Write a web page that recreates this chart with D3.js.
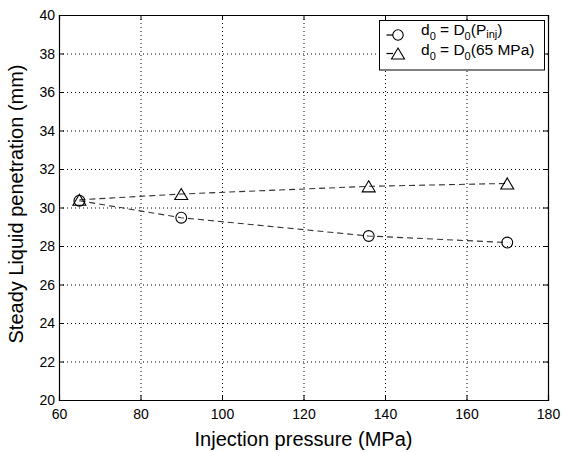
<!DOCTYPE html>
<html><head><meta charset="utf-8">
<script src="https://cdn.jsdelivr.net/npm/d3@7"></script>
<style>body{margin:0;background:#fff}svg{display:block}text,tspan{font-family:"Liberation Sans",Arial,sans-serif;fill:#000}</style>
</head><body><svg id="c" width="561" height="452"></svg>
<script>
const pressure = [65, 90, 136, 170];
const penetrationPinj = [30.35, 29.47, 28.52, 28.18];
const penetration65 = [30.4, 30.7, 31.1, 31.25];
const xTicks = [60, 80, 100, 120, 140, 160, 180];
const yTicks = [20, 22, 24, 26, 28, 30, 32, 34, 36, 38, 40];
const legendLabels = ["Pinj", "65 MPa"];

const svg = d3.select("#c");
const L = 59, R = 548, T = 15, B = 400;
const x = d3.scaleLinear().domain([60, 180]).range([L, R]);
const y = d3.scaleLinear().domain([20, 40]).range([B, T]);

// grid
const g = svg.append("g");
g.selectAll(".gx").data(xTicks.slice(1, -1)).enter().append("line")
  .attr("x1", d => x(d) + 0.5).attr("x2", d => x(d) + 0.5).attr("y1", T).attr("y2", B)
  .attr("stroke", "#000").attr("stroke-width", 1).attr("stroke-dasharray", "1,3");
g.selectAll(".gy").data(yTicks.slice(1, -1)).enter().append("line")
  .attr("y1", d => y(d) + 0.5).attr("y2", d => y(d) + 0.5).attr("x1", L).attr("x2", R)
  .attr("stroke", "#000").attr("stroke-width", 1).attr("stroke-dasharray", "1,3");

// axes
const ax = svg.append("g").attr("transform", `translate(0,${B})`)
  .call(d3.axisBottom(x).tickValues(xTicks).tickSize(-5).tickPadding(9).tickFormat(d3.format("d")));
const ay = svg.append("g").attr("transform", `translate(${L},0)`)
  .call(d3.axisLeft(y).tickValues(yTicks).tickSize(-5).tickPadding(4).tickFormat(d3.format("d")));
const at = svg.append("g").attr("transform", `translate(0,${T})`)
  .call(d3.axisTop(x).tickValues(xTicks).tickSize(-5).tickFormat(""));
const ar = svg.append("g").attr("transform", `translate(${R},0)`)
  .call(d3.axisRight(y).tickValues(yTicks).tickSize(-5).tickFormat(""));
[ax, ay, at, ar].forEach(a => {
  a.select(".domain").attr("stroke", "#000").attr("stroke-width", 1.2);
  a.selectAll(".tick line").attr("stroke", "#000");
  a.selectAll("text").style("font-size", "14px").attr("fill", "#000")
    .style("font-family", "'Liberation Sans',Arial,sans-serif");
});
ax.selectAll("text").attr("dy", "0.71em");
ay.selectAll("text").attr("dy", "0.35em");

// lines
const line = d3.line().x((d, i) => x(pressure[i])).y(d => y(d));
[penetrationPinj, penetration65].forEach(s => {
  svg.append("path").attr("d", line(s)).attr("fill", "none")
    .attr("stroke", "#333").attr("stroke-width", 1.1).attr("stroke-dasharray", "6,4");
});
// markers
svg.selectAll(".circ").data(penetrationPinj).enter().append("circle")
  .attr("cx", (d, i) => x(pressure[i])).attr("cy", d => y(d)).attr("r", 5.4)
  .attr("fill", "none").attr("stroke", "#000").attr("stroke-width", 1.1);
const triPath = "M0,-5.5L6.5,5.5L-6.5,5.5Z";
svg.selectAll(".tri").data(penetration65).enter().append("path")
  .attr("d", triPath)
  .attr("transform", (d, i) => `translate(${x(pressure[i])},${y(d)})`)
  .attr("fill", "none").attr("stroke", "#000").attr("stroke-width", 1.1);

// legend
const lg = svg.append("g");
lg.append("rect").attr("x", 379.5).attr("y", 20.5).attr("width", 165).attr("height", 49.5)
  .attr("fill", "#fff").attr("stroke", "#000").attr("stroke-width", 1);
const rows = [35, 53.5];
rows.forEach((yy, i) => {
  lg.append("line").attr("x1", 386.5).attr("x2", 393).attr("y1", yy).attr("y2", yy)
    .attr("stroke", "#000").attr("stroke-width", 1.2);
  if (i === 0) lg.append("circle").attr("cx", 398).attr("cy", yy).attr("r", 5.2)
    .attr("fill", "none").attr("stroke", "#000").attr("stroke-width", 1.1);
  else lg.append("path").attr("d", triPath).attr("transform", `translate(398,${yy})`)
    .attr("fill", "none").attr("stroke", "#000").attr("stroke-width", 1.1);
  const t = lg.append("text").attr("x", 421).attr("y", i === 0 ? 35 : 54.5).style("font-size", "15.5px");
  const sub = (s, d) => t.append("tspan").text(s).attr("dy", d).style("font-size", "11px").attr("fill", "#000");
  const main = (s, dy) => t.append("tspan").text(s).attr("dy", dy).attr("fill", "#000");
  main("d", 0); sub("0", 5); main(" = D", -5); sub("0", 5);
  if (i === 0) { main("(P", -5); sub("inj", 2.5); main(")", -2.5); }
  else { main("(" + legendLabels[1] + ")", -5); }
});

// axis titles
svg.append("text").attr("x", (L + R) / 2).attr("y", 446).attr("text-anchor", "middle")
  .style("font-size", "20px").text("Injection pressure (MPa)");
svg.append("text").attr("transform", `translate(23,204) rotate(-90)`)
  .attr("text-anchor", "middle").style("font-size", "20px").text("Steady Liquid penetration (mm)");
</script></body></html>
